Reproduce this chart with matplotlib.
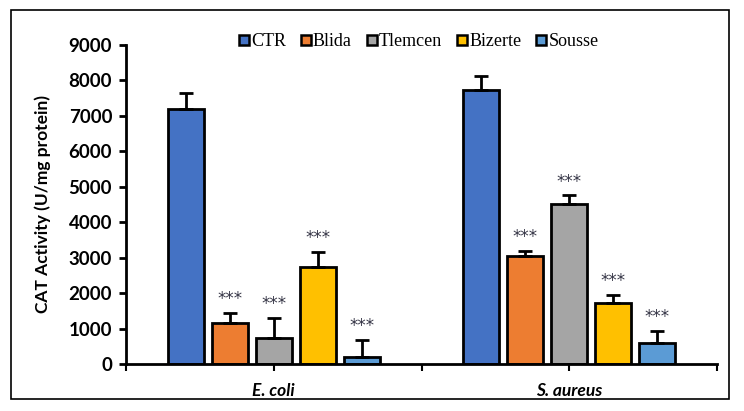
import numpy as np
import matplotlib
matplotlib.use("Agg")
import matplotlib.pyplot as plt
from matplotlib.lines import Line2D
from matplotlib.patches import Rectangle

groups = ["E. coli", "S. aureus"]
series = ["CTR", "Blida", "Tlemcen", "Bizerte", "Sousse"]
colors = ["#4472c4", "#ed7d31", "#a5a5a5", "#ffc000", "#5b9bd5"]

# values [E. coli, S. aureus] per series
means = {
    "CTR":     [7200, 7730],
    "Blida":   [1150, 3050],
    "Tlemcen": [730, 4510],
    "Bizerte": [2740, 1720],
    "Sousse":  [200, 590],
}
errs = {
    "CTR":     [450, 400],
    "Blida":   [290, 140],
    "Tlemcen": [570, 250],
    "Bizerte": [430, 230],
    "Sousse":  [480, 340],
}
stars = {
    "CTR":     ["", ""],
    "Blida":   ["***", "***"],
    "Tlemcen": ["***", "***"],
    "Bizerte": ["***", "***"],
    "Sousse":  ["***", "***"],
}

fig = plt.figure(figsize=(7.44, 4.11), dpi=100)
ax = fig.add_axes([0.1694, 0.1144, 0.7943, 0.7761])

# outer frame round the whole chart
fig.patches.append(Rectangle((11 / 744, 1 - 399 / 411), 718 / 744, 389 / 411,
                             transform=fig.transFigure, fill=False,
                             edgecolor="black", lw=1.2))

x = np.arange(len(groups))
pitch, width = 0.149, 0.122
for i, s in enumerate(series):
    pos = x + (i - 2) * pitch
    ax.bar(pos, means[s], width=width, color=colors[i], edgecolor="black",
           lw=2, zorder=2)
    ax.errorbar(pos, means[s], yerr=[np.zeros(2), errs[s]], fmt="none",
                ecolor="black", elinewidth=2, capsize=5, capthick=2, zorder=3)
    for p, m, e, t in zip(pos, means[s], errs[s], stars[s]):
        if t:
            ax.text(p, m + e + 130, t, ha="center", va="bottom",
                    fontsize=12, color="#333344", family="DejaVu Sans")

ax.set_xlim(-0.5, 1.5)
ax.set_ylim(0, 9000)
ax.set_yticks(np.arange(0, 9001, 1000))
ax.set_xticks([-0.5, 0, 0.5, 1, 1.5])
ax.set_xticklabels(["", groups[0], "", groups[1], ""], fontstyle="italic",
                   fontweight="bold", fontsize=12.5, family="Lato")
for lbl in ax.get_yticklabels():
    lbl.set_fontweight("bold")
    lbl.set_family("Lato")
    lbl.set_fontsize(13.5)
ax.tick_params(axis="y", direction="out", length=5, width=2, pad=5)
ax.tick_params(axis="x", direction="out", length=5, width=1.5, pad=9)

for sp in ("top", "right"):
    ax.spines[sp].set_visible(False)
for sp in ("left", "bottom"):
    ax.spines[sp].set_linewidth(2)

ax.set_ylabel("CAT Activity (U/mg protein)", fontweight="bold", fontsize=12.5,
              family="Lato", labelpad=13)

handles = [Line2D([0], [0], marker="s", ls="none", markersize=7,
                  markerfacecolor=c, markeredgecolor="black",
                  markeredgewidth=1.8, label=s)
           for s, c in zip(series, colors)]
ax.legend(handles=handles, loc="center", bbox_to_anchor=(0.49, 1.01),
          ncol=5, frameon=False, handletextpad=-0.2, columnspacing=0.5,
          handlelength=1.2,
          prop={"family": "Liberation Serif", "size": 13})

fig.savefig("out.png", dpi=100, facecolor="white")
